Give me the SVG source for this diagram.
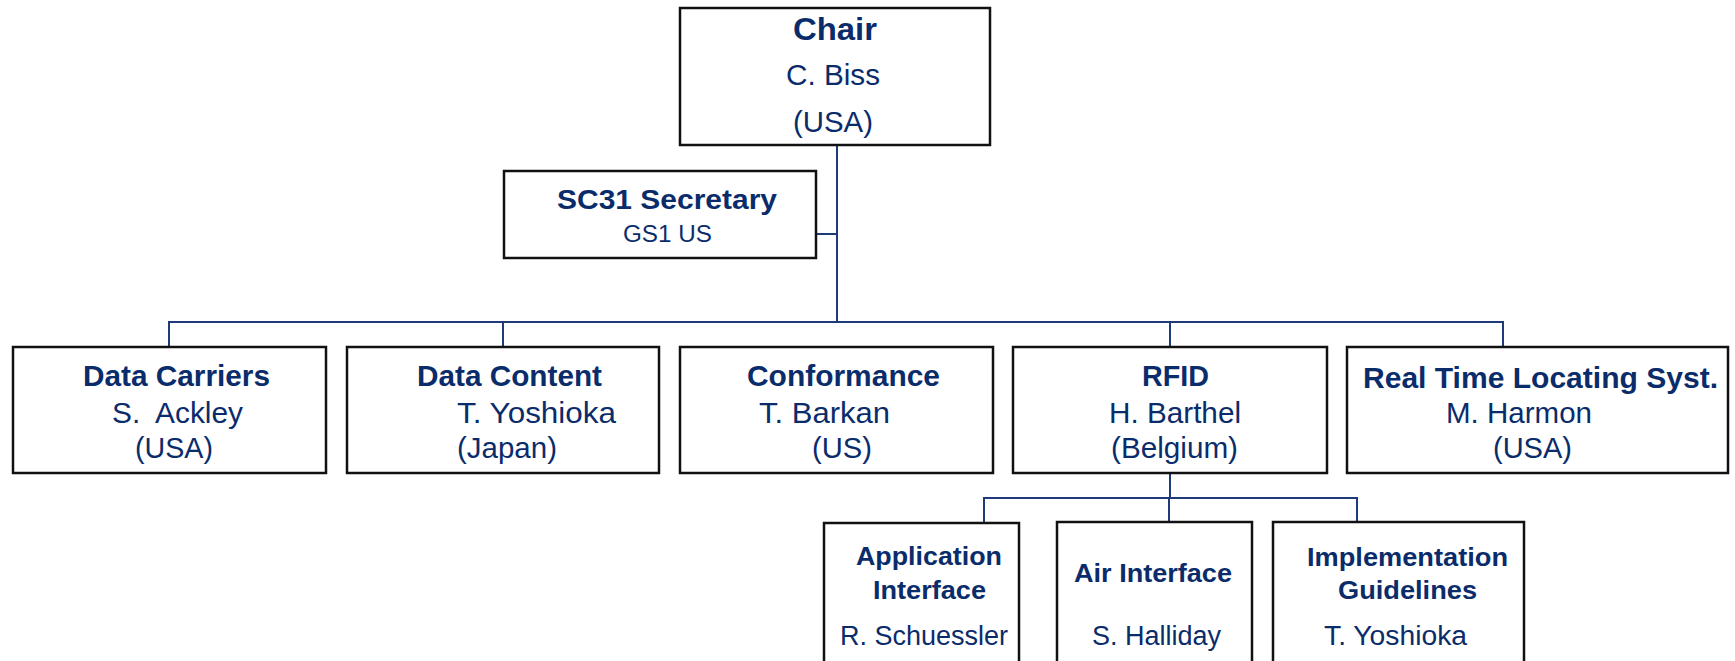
<svg xmlns="http://www.w3.org/2000/svg" width="1735" height="661" viewBox="0 0 1735 661">
<style>
.box{fill:#fff;stroke:#111;stroke-width:2.5}
.t{font-family:"Liberation Sans",Arial,sans-serif;fill:#0b2c6b}
.b{font-weight:bold}
.c{fill:none;stroke:#1d3b78;stroke-width:2}
</style>
<rect width="1735" height="661" fill="#fff"/>
<g id="connectors">
<path class="c" d="M837 145V322M816 234H837M169 346V322H1503V346M503 322V346M1170 322V346M1170 473V498M984 522V498H1357V522M1169 498V522"/>
</g>
<g id="chair">
<rect class="box" x="680" y="8" width="310" height="137"/>
<text class="t b" x="793" y="40" font-size="32" textLength="84" lengthAdjust="spacingAndGlyphs">Chair</text>
<text class="t" x="786" y="85" font-size="30" textLength="94" lengthAdjust="spacingAndGlyphs">C. Biss</text>
<text class="t" x="793" y="132" font-size="30" textLength="80" lengthAdjust="spacingAndGlyphs">(USA)</text>
</g>
<g id="secretary">
<rect class="box" x="504" y="171" width="312" height="87"/>
<text class="t b" x="557" y="209" font-size="28" textLength="220" lengthAdjust="spacingAndGlyphs">SC31 Secretary</text>
<text class="t" x="623" y="242" font-size="23" textLength="89" lengthAdjust="spacingAndGlyphs">GS1 US</text>
</g>
<g id="data-carriers">
<rect class="box" x="13" y="347" width="313" height="126"/>
<text class="t b" x="83" y="386" font-size="30" textLength="187" lengthAdjust="spacingAndGlyphs">Data Carriers</text>
<text class="t" x="112" y="423" font-size="29" textLength="131" lengthAdjust="spacingAndGlyphs" xml:space="preserve">S.  Ackley</text>
<text class="t" x="135" y="458" font-size="29" textLength="78" lengthAdjust="spacingAndGlyphs">(USA)</text>
</g>
<g id="data-content">
<rect class="box" x="347" y="347" width="312" height="126"/>
<text class="t b" x="417" y="386" font-size="30" textLength="185" lengthAdjust="spacingAndGlyphs">Data Content</text>
<text class="t" x="457" y="423" font-size="29" textLength="159" lengthAdjust="spacingAndGlyphs">T. Yoshioka</text>
<text class="t" x="457" y="458" font-size="29" textLength="100" lengthAdjust="spacingAndGlyphs">(Japan)</text>
</g>
<g id="conformance">
<rect class="box" x="680" y="347" width="313" height="126"/>
<text class="t b" x="747" y="386" font-size="30" textLength="193" lengthAdjust="spacingAndGlyphs">Conformance</text>
<text class="t" x="759" y="423" font-size="29" textLength="131" lengthAdjust="spacingAndGlyphs">T. Barkan</text>
<text class="t" x="812" y="458" font-size="29" textLength="60" lengthAdjust="spacingAndGlyphs">(US)</text>
</g>
<g id="rfid">
<rect class="box" x="1013" y="347" width="314" height="126" stroke-width="3"/>
<text class="t b" x="1142" y="386" font-size="30" textLength="67" lengthAdjust="spacingAndGlyphs">RFID</text>
<text class="t" x="1109" y="423" font-size="29" textLength="132" lengthAdjust="spacingAndGlyphs">H. Barthel</text>
<text class="t" x="1111" y="458" font-size="29" textLength="127" lengthAdjust="spacingAndGlyphs">(Belgium)</text>
</g>
<g id="rtls">
<rect class="box" x="1347" y="347" width="381" height="126"/>
<text class="t b" x="1363" y="388" font-size="30" textLength="355" lengthAdjust="spacingAndGlyphs">Real Time Locating Syst.</text>
<text class="t" x="1446" y="423" font-size="29" textLength="146" lengthAdjust="spacingAndGlyphs">M. Harmon</text>
<text class="t" x="1493" y="458" font-size="29" textLength="79" lengthAdjust="spacingAndGlyphs">(USA)</text>
</g>
<g id="application-interface">
<rect class="box" x="824" y="523" width="195" height="160"/>
<text class="t b" x="856" y="565" font-size="26" textLength="146" lengthAdjust="spacingAndGlyphs">Application</text>
<text class="t b" x="873" y="599" font-size="26" textLength="113" lengthAdjust="spacingAndGlyphs">Interface</text>
<text class="t" x="840" y="645" font-size="27" textLength="168" lengthAdjust="spacingAndGlyphs">R. Schuessler</text>
</g>
<g id="air-interface">
<rect class="box" x="1057" y="522" width="195" height="160"/>
<text class="t b" x="1074" y="582" font-size="26" textLength="158" lengthAdjust="spacingAndGlyphs">Air Interface</text>
<text class="t" x="1092" y="645" font-size="27" textLength="129" lengthAdjust="spacingAndGlyphs">S. Halliday</text>
</g>
<g id="implementation-guidelines">
<rect class="box" x="1273" y="522" width="251" height="160"/>
<text class="t b" x="1307" y="566" font-size="26" textLength="201" lengthAdjust="spacingAndGlyphs">Implementation</text>
<text class="t b" x="1338" y="599" font-size="26" textLength="139" lengthAdjust="spacingAndGlyphs">Guidelines</text>
<text class="t" x="1324" y="645" font-size="27" textLength="143" lengthAdjust="spacingAndGlyphs">T. Yoshioka</text>
</g>
</svg>
